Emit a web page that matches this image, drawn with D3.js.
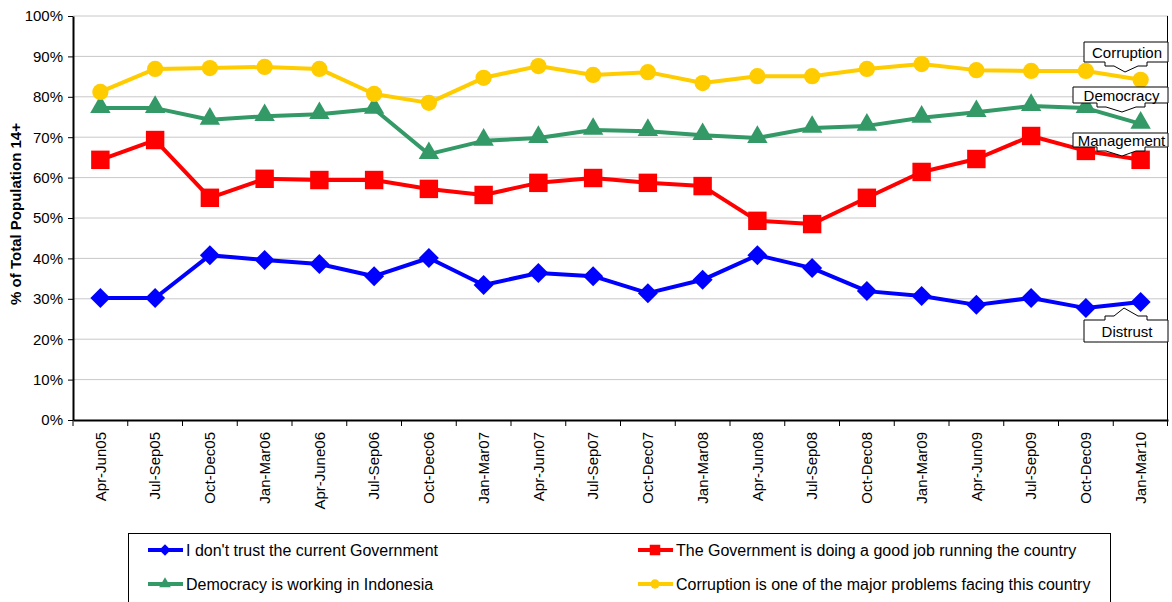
<!DOCTYPE html>
<html>
<head>
<meta charset="utf-8">
<script src="https://cdn.jsdelivr.net/npm/d3@7"></script>
<style>
  body { margin: 0; background: #fff; }
  svg { display: block; font-family: "Liberation Sans", Arial, sans-serif; }
</style>
</head>
<body>
<div class="chart-js"></div>
<script>
'use strict';

var quarters = ["Apr-Jun05", "Jul-Sep05", "Oct-Dec05", "Jan-Mar06", "Apr-June06", "Jul-Sep06",
  "Oct-Dec06", "Jan-Mar07", "Apr-Jun07", "Jul-Sep07", "Oct-Dec07", "Jan-Mar08", "Apr-Jun08",
  "Jul-Sep08", "Oct-Dec08", "Jan-Mar09", "Apr-Jun09", "Jul-Sep09", "Oct-Dec09", "Jan-Mar10"];

var distrust = [30.2, 30.2, 40.8, 39.6, 38.6, 35.6, 40.1, 33.4, 36.4, 35.6,
  31.4, 34.7, 40.8, 37.6, 31.9, 30.7, 28.5, 30.2, 27.7, 29.2];
var goodJob = [64.4, 69.3, 55.0, 59.7, 59.4, 59.4, 57.2, 55.7, 58.7, 59.9,
  58.7, 57.9, 49.3, 48.5, 55.0, 61.4, 64.6, 70.3, 66.6, 64.4];
var democracy = [77.2, 77.2, 74.3, 75.2, 75.7, 77.0, 65.8, 69.1, 69.8, 71.8,
  71.5, 70.5, 69.8, 72.3, 72.8, 74.8, 76.2, 77.7, 77.2, 73.3];
var corruption = [81.2, 86.9, 87.1, 87.4, 86.9, 80.7, 78.5, 84.7, 87.6, 85.4,
  86.1, 83.4, 85.1, 85.1, 86.9, 88.1, 86.6, 86.4, 86.4, 84.2];

var yTicks = [0, 10, 20, 30, 40, 50, 60, 70, 80, 90, 100];

var seriesNames = ["I don't trust the current Government",
  "The Government is doing a good job running the country",
  "Democracy is working in Indonesia",
  "Corruption is one of the major problems facing this country"];
var seriesColors = ["#0000ff", "#ff0000", "#339966", "#ffcc00"];

// callout labels near the last points
var callouts = ["Distrust", "Management", "Democracy", "Corruption"];

function marker(s, size) {
  // diamond, square, triangle, circle
  if (s === 0) return d3.symbol().type(d3.symbolSquare).size(size * 0.5)();
  if (s === 1) return d3.symbol().type(d3.symbolSquare).size(size * 0.85)();
  if (s === 2) return d3.symbol().type(d3.symbolTriangle).size(size * 0.45)();
  return d3.symbol().type(d3.symbolCircle).size(size * 0.52)();
}

function run() {
  var owidth = 1172, oheight = 602;
  var margin = {top: 16, right: 4, bottom: 182, left: 73};
  var cwidth = owidth - margin.left - margin.right;
  var cheight = oheight - margin.top - margin.bottom;

  var allSeries = [distrust, goodJob, democracy, corruption];

  var x = d3.scaleBand().domain(quarters).range([0, cwidth]);
  var y = d3.scaleLinear().domain([0, 100]).range([cheight, 0]);

  var svg = d3.select(".chart-js").append("svg")
    .attr("width", owidth)
    .attr("height", oheight);

  var chart = svg.append("g")
    .attr("transform", "translate(" + margin.left + "," + margin.top + ")");

  // gridlines
  chart.append("g").selectAll("line")
    .data(yTicks.slice(1))
    .enter().append("line")
    .attr("x1", 0).attr("x2", cwidth)
    .attr("y1", function(d) { return y(d); })
    .attr("y2", function(d) { return y(d); })
    .attr("stroke", "#c8c8c8")
    .attr("stroke-width", 1);

  // plot area right border
  chart.append("line")
    .attr("x1", cwidth - 0.5).attr("x2", cwidth - 0.5)
    .attr("y1", 0).attr("y2", cheight)
    .attr("stroke", "#000").attr("stroke-width", 1);

  // y axis
  var yAxis = d3.axisLeft(y).tickValues(yTicks)
    .tickFormat(function(d) { return d + "%"; })
    .tickSize(5).tickSizeOuter(0);
  var gy = chart.append("g").call(yAxis);
  gy.select(".domain").attr("stroke", "#000").attr("stroke-width", 2);
  gy.selectAll(".tick line").attr("stroke", "#000");
  gy.selectAll(".tick text")
    .attr("x", -10)
    .style("font-size", "15px")
    .attr("fill", "#000");

  // x axis, ticks between categories
  var xAxis = d3.axisBottom(x).tickSize(0).tickSizeOuter(0);
  var gx = chart.append("g")
    .attr("transform", "translate(0," + cheight + ")")
    .call(xAxis);
  gx.select(".domain").attr("stroke", "#000").attr("stroke-width", 2);
  gx.selectAll(".tick text")
    .attr("transform", "rotate(-90)")
    .attr("x", -12)
    .attr("y", 0)
    .attr("dy", "0.35em")
    .attr("text-anchor", "end")
    .style("font-size", "15px")
    .attr("fill", "#000");
  var bounds = quarters.map(function(d) { return x(d); }).concat([cwidth - 0.5]);
  gx.append("g").selectAll("line")
    .data(bounds)
    .enter().append("line")
    .attr("x1", function(d) { return d; })
    .attr("x2", function(d) { return d; })
    .attr("y1", 0).attr("y2", 6)
    .attr("stroke", "#000");

  // y title
  svg.append("text")
    .attr("transform", "translate(21," + 214 + ") rotate(-90)")
    .attr("text-anchor", "middle")
    .style("font-size", "15px")
    .style("font-weight", "bold")
    .text("% of Total Population 14+");

  var line = d3.line()
    .x(function(d, i) { return x(quarters[i]) + x.bandwidth() / 2; })
    .y(function(d) { return y(d); });

  allSeries.forEach(function(values, s) {
    chart.append("path")
      .datum(values)
      .attr("fill", "none")
      .attr("stroke", seriesColors[s])
      .attr("stroke-width", 4)
      .attr("stroke-linejoin", "round")
      .attr("d", line);
    chart.append("g").selectAll("path")
      .data(values)
      .enter().append("path")
      .attr("transform", function(d, i) {
        var t = "translate(" + (x(quarters[i]) + x.bandwidth() / 2) + "," + (y(d) + (s === 2 ? -1 : 0)) + ")";
        return s === 0 ? t + " rotate(45)" : t;
      })
      .attr("d", marker(s, 400))
      .attr("fill", seriesColors[s]);
  });

  // callouts (block-arrow shapes)
  var boxes = [
    {text: callouts[0], x0: 1084, top: 320, h: 22, up: true, ax: 1105, bx: 1147, tip: 1124, tipY: 308},
    {text: callouts[1], x0: 1073, top: 133, h: 14, up: false, ax: 1097, bx: 1145, tip: 1122, tipY: 156},
    {text: callouts[2], x0: 1073, top: 87, h: 16, up: false, ax: 1097, bx: 1145, tip: 1122, tipY: 112},
    {text: callouts[3], x0: 1084, top: 42, h: 20, up: false, ax: 1105, bx: 1147, tip: 1125, tipY: 72}
  ];
  var x1 = 1168;
  boxes.forEach(function(b) {
    var p;
    if (b.up) {
      var t = b.top, m = t - 4;
      p = "M" + b.x0 + "," + t + " L" + b.ax + "," + t + " L" + b.ax + "," + m +
        " L" + (b.ax + 9) + "," + m + " L" + b.tip + "," + b.tipY +
        " L" + (b.bx - 9) + "," + m + " L" + b.bx + "," + m + " L" + b.bx + "," + t +
        " L" + x1 + "," + t + " L" + x1 + "," + (t + b.h) + " L" + b.x0 + "," + (t + b.h) + "Z";
    } else {
      var bt = b.top + b.h, n = bt + 4;
      p = "M" + b.x0 + "," + b.top + " L" + x1 + "," + b.top + " L" + x1 + "," + bt +
        " L" + b.bx + "," + bt + " L" + b.bx + "," + n + " L" + (b.bx - 9) + "," + n +
        " L" + b.tip + "," + b.tipY + " L" + (b.ax + 9) + "," + n + " L" + b.ax + "," + n +
        " L" + b.ax + "," + bt + " L" + b.x0 + "," + bt + "Z";
    }
    svg.append("path")
      .attr("d", p)
      .attr("fill", "#fff")
      .attr("stroke", "#000")
      .attr("stroke-width", 1);
    svg.append("text")
      .attr("x", (b.x0 + x1) / 2 + 1)
      .attr("y", b.top + b.h / 2)
      .attr("dy", "0.38em")
      .attr("text-anchor", "middle")
      .style("font-size", "15px")
      .text(b.text);
  });

  // legend
  var legend = svg.append("g").attr("transform", "translate(128,533)");
  legend.append("rect")
    .attr("x", 0.5).attr("y", 0.5)
    .attr("width", 982).attr("height", 80)
    .attr("fill", "#fff").attr("stroke", "#000").attr("stroke-width", 1);
  var legendPos = [[20, 17], [510, 17], [20, 51], [510, 51]];
  seriesNames.forEach(function(name, s) {
    var g = legend.append("g")
      .attr("transform", "translate(" + legendPos[s][0] + "," + legendPos[s][1] + ")");
    g.append("line")
      .attr("x1", 0).attr("x2", 35)
      .attr("stroke", seriesColors[s]).attr("stroke-width", 4);
    g.append("path")
      .attr("transform", "translate(17,0)" + (s === 0 ? " rotate(45)" : ""))
      .attr("d", marker(s, 130))
      .attr("fill", seriesColors[s]);
    g.append("text")
      .attr("x", 38).attr("dy", "0.36em")
      .style("font-size", "16px")
      .text(name);
  });
}

document.addEventListener("DOMContentLoaded", run);
</script>
</body>
</html>
